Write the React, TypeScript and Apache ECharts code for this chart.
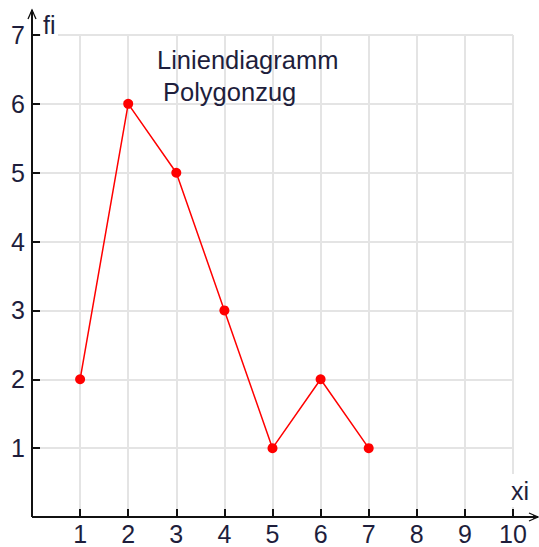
import React, { useEffect, useRef } from "react";
import * as echarts from "echarts";

const xi = [1, 2, 3, 4, 5, 6, 7];
const fi = [2, 6, 5, 3, 1, 2, 1];
const titleLines = ["Liniendiagramm", "Polygonzug"];
const xName = "xi";
const yName = "fi";
const xMax = 10;
const yMax = 7;

const W = 539;
const H = 547;
const G = { left: 32, right: 26, top: 35, bottom: 30 };
const FONT = 'Arial, "Liberation Sans", sans-serif';
const TXT = "#1e1e3c";

export default function App() {
  const ref = useRef<HTMLDivElement>(null);
  useEffect(() => {
    if (!ref.current) return;
    const chart = echarts.init(ref.current, null, { renderer: "svg" });
    const ox = G.left;
    const oy = H - G.bottom;
    const rx = W - G.right;
    chart.setOption({
      animation: false,
      backgroundColor: "#fff",
      grid: { left: G.left, right: G.right, top: G.top, bottom: G.bottom, containLabel: false },
      xAxis: {
        type: "value",
        min: 0,
        max: xMax,
        interval: 1,
        axisLine: { show: false },
        axisTick: { show: true, inside: true, length: 8, lineStyle: { color: "#111", width: 2 } },
        axisLabel: {
          margin: 4,
          fontSize: 25,
          fontFamily: FONT,
          color: TXT,
          formatter: (v: number) => (v === 0 ? "" : String(v)),
        },
        splitLine: { show: true, lineStyle: { color: "#e4e4e4", width: 2 } },
      },
      yAxis: {
        type: "value",
        min: 0,
        max: yMax,
        interval: 1,
        axisLine: { show: false },
        axisTick: { show: true, inside: true, length: 8, lineStyle: { color: "#111", width: 2 } },
        axisLabel: {
          margin: 7,
          fontSize: 25,
          fontFamily: FONT,
          color: TXT,
          formatter: (v: number) => (v === 0 ? "" : String(v)),
        },
        splitLine: { show: true, lineStyle: { color: "#e4e4e4", width: 2 } },
      },
      series: [
        {
          type: "line",
          data: xi.map((x, i) => [x, fi[i]]),
          symbol: "circle",
          symbolSize: 10,
          itemStyle: { color: "#ff0000" },
          lineStyle: { color: "#ff0000", width: 1.5 },
          z: 5,
        },
      ],
      graphic: [
        { type: "rect", shape: { x: 41, y: 28, width: 17, height: 12 }, style: { fill: "#fff" }, z: 10 },
        { type: "rect", shape: { x: rx - 7, y: 474, width: 14, height: 33 }, style: { fill: "#fff" }, z: 10 },
        { type: "line", shape: { x1: ox, y1: oy, x2: ox, y2: 10 }, style: { stroke: "#111", lineWidth: 2 }, z: 20 },
        { type: "line", shape: { x1: ox, y1: oy, x2: W - 1, y2: oy }, style: { stroke: "#111", lineWidth: 2 }, z: 20 },
        { type: "polyline", shape: { points: [[ox - 4, 19], [ox, 10], [ox + 4, 19]] }, style: { stroke: "#111", lineWidth: 1.3, fill: "none" }, z: 20 },
        { type: "polygon", shape: { points: [[ox - 2, 14], [ox, 9], [ox + 2, 14]] }, style: { fill: "#111" }, z: 20 },
        { type: "polyline", shape: { points: [[W - 10, oy - 4], [W - 1, oy], [W - 10, oy + 4]] }, style: { stroke: "#111", lineWidth: 1.3, fill: "none" }, z: 20 },
        { type: "polygon", shape: { points: [[W - 6, oy - 2], [W - 1, oy], [W - 6, oy + 2]] }, style: { fill: "#111" }, z: 20 },
        { type: "text", x: 43, y: 12, style: { text: yName, font: `25px ${FONT}`, fill: TXT }, z: 21 },
        { type: "text", x: 511, y: 478, style: { text: xName, font: `25px ${FONT}`, fill: TXT }, z: 21 },
        { type: "text", x: 157, y: 47, style: { text: titleLines[0], font: `25.5px ${FONT}`, fill: TXT }, z: 21 },
        { type: "text", x: 163, y: 79, style: { text: titleLines[1], font: `25.5px ${FONT}`, fill: TXT }, z: 21 },
      ],
    });
    return () => chart.dispose();
  }, []);
  return <div ref={ref} style={{ position: "fixed", left: 0, top: 0, width: W, height: H }} />;
}
